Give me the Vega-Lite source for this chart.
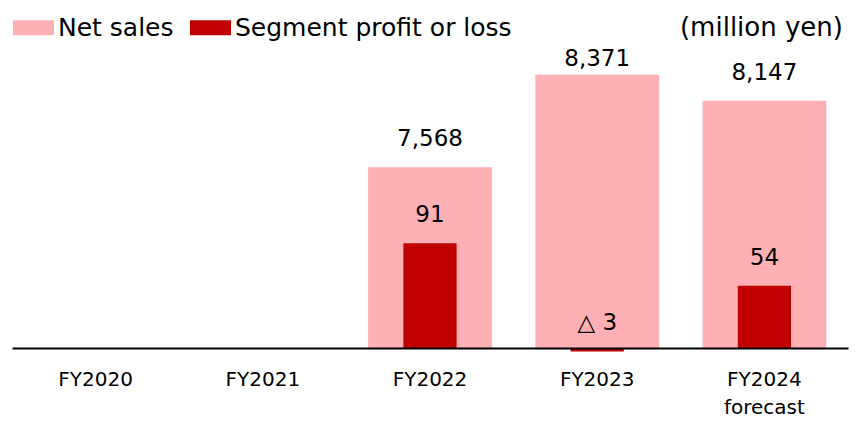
{
  "$schema": "https://vega.github.io/schema/vega-lite/v6.json",
  "width": 836,
  "height": 288,
  "autosize": {"type": "none"},
  "padding": {"left": 12, "top": 60, "right": 8, "bottom": 75},
  "background": "white",
  "config": {"view": {"stroke": null}, "font": "DejaVu Sans"},
  "title": {
    "text": "(million yen)",
    "anchor": "end",
    "orient": "top",
    "frame": "group",
    "fontSize": 26,
    "fontWeight": "normal",
    "color": "black",
    "baseline": "alphabetic",
    "offset": -54.5,
    "dx": -5
  },
  "data": {
    "values": [
      {"fy": "FY2020", "sales": null, "profit": null, "profit_label": null},
      {"fy": "FY2021", "sales": null, "profit": null, "profit_label": null},
      {"fy": "FY2022", "sales": 7568, "profit": 91, "profit_label": "91"},
      {"fy": "FY2023", "sales": 8371, "profit": -3, "profit_label": "△ 3"},
      {"fy": "FY2024", "sales": 8147, "profit": 54, "profit_label": "54"}
    ]
  },
  "encoding": {
    "x": {
      "field": "fy",
      "type": "nominal",
      "sort": null,
      "scale": {"domain": ["FY2020", "FY2021", "FY2022", "FY2023", "FY2024"], "paddingInner": 0.26, "paddingOuter": 0.13},
      "axis": {
        "title": null,
        "labelAngle": 0,
        "labelFontSize": 20,
        "labelColor": "black",
        "labelPadding": 21,
        "labelLineHeight": 28,
        "labelBaseline": "top",
        "labelExpr": "datum.value == 'FY2024' ? ['FY2024', 'forecast'] : datum.value",
        "ticks": false,
        "grid": false,
        "domainColor": "black",
        "domainWidth": 2,
        "zindex": 1
      }
    }
  },
  "layer": [
    {
      "layer": [
        {
          "mark": {"type": "bar"},
          "encoding": {
            "y": {"field": "sales", "type": "quantitative", "scale": {"domain": [6000, 8500], "zero": false, "nice": false}, "axis": null},
            "y2": {"datum": 6000},
            "color": {
              "datum": "Net sales",
              "type": "nominal",
              "scale": {"domain": ["Net sales", "Segment profit or loss"], "range": ["#FFB0B4", "#C00000"]},
              "legend": {
                "orient": "none",
                "legendX": 1,
                "legendY": -53,
                "direction": "horizontal",
                "title": null,
                "labelFontSize": 25,
                "labelColor": "black",
                "labelLimit": 0,
                "symbolType": "M-1,-0.366H1V0.366H-1Z",
                "symbolSize": 1681,
                "symbolStrokeWidth": 0,
                "symbolOpacity": 1,
                "labelOffset": 4,
                "columnPadding": 16,
                "padding": 0
              }
            }
          }
        },
        {
          "transform": [{"filter": "datum.fy != 'FY2023'"}],
          "mark": {"type": "text", "dy": -21, "baseline": "alphabetic", "fontSize": 23, "color": "black"},
          "encoding": {
            "y": {"field": "sales", "type": "quantitative"},
            "text": {"field": "sales", "type": "quantitative", "format": ","}
          }
        },
        {
          "transform": [{"filter": "datum.fy == 'FY2023'"}],
          "mark": {"type": "text", "dy": -9, "baseline": "alphabetic", "fontSize": 23, "color": "black"},
          "encoding": {
            "y": {"field": "sales", "type": "quantitative"},
            "text": {"field": "sales", "type": "quantitative", "format": ","}
          }
        }
      ]
    },
    {
      "layer": [
        {
          "mark": {"type": "bar", "width": {"band": 0.43}},
          "encoding": {
            "y": {"field": "profit", "type": "quantitative", "scale": {"domain": [0, 250], "nice": false}, "axis": null},
            "y2": {"datum": 0},
            "color": {"datum": "Segment profit or loss", "type": "nominal"}
          }
        },
        {
          "mark": {"type": "text", "dy": -21, "baseline": "alphabetic", "fontSize": 23, "color": "black"},
          "encoding": {
            "y": {"field": "profit", "type": "quantitative"},
            "text": {"field": "profit_label", "type": "nominal"}
          }
        }
      ]
    }
  ],
  "resolve": {"scale": {"y": "independent"}}
}
